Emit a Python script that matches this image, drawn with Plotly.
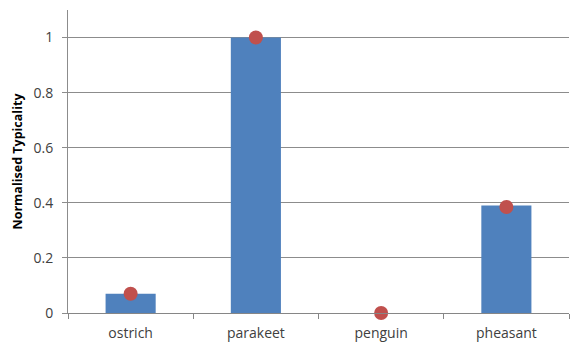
import plotly.graph_objects as go

categories = ["ostrich", "parakeet", "penguin", "pheasant"]
bar_values = [0.07, 1.0, 0.0, 0.39]
dot_values = [0.07, 1.0, 0.0, 0.385]
y_ticks = [0, 0.2, 0.4, 0.6, 0.8, 1]
y_tick_labels = ["0", "0.2", "0.4", "0.6", "0.8", "1"]

fig = go.Figure()
fig.add_trace(go.Bar(
    x=categories, y=bar_values,
    marker=dict(color="#4F81BD", line=dict(width=0)),
    width=0.4, showlegend=False,
))
fig.add_trace(go.Scatter(
    x=categories, y=dot_values, mode="markers",
    marker=dict(color="#C0504D", size=14, line=dict(width=0)),
    showlegend=False, cliponaxis=False,
))

fig.update_layout(
    width=570, height=342,
    margin=dict(l=68, r=1, t=10, b=29),
    paper_bgcolor="white", plot_bgcolor="white",
    font=dict(family="Open Sans, Liberation Sans, sans-serif", size=14, color="#404040"),
    xaxis=dict(
        showline=True, linecolor="#868686", linewidth=1,
        ticks="outside", ticklen=5, tickcolor="#868686",
        tickson="boundaries", showgrid=False,
        tickfont=dict(size=14, color="#404040"),
        ticklabelstandoff=7, automargin=False,
        range=[-0.5, 3.5],
    ),
    yaxis=dict(
        range=[0, 1.1],
        tickvals=y_ticks, ticktext=y_tick_labels,
        showgrid=True, gridcolor="#8c8c8c", gridwidth=1,
        showline=True, linecolor="#8c8c8c", linewidth=1,
        ticks="outside", ticklen=5, tickcolor="#8c8c8c",
        zeroline=False, automargin=False,
        ticklabelstandoff=6,
        tickfont=dict(size=14, color="#404040"),
        title=dict(text="<b>Normalised Typicality</b>", font=dict(size=12.5, color="#000000"), standoff=8),
    ),
)

fig.write_html("out.html")
